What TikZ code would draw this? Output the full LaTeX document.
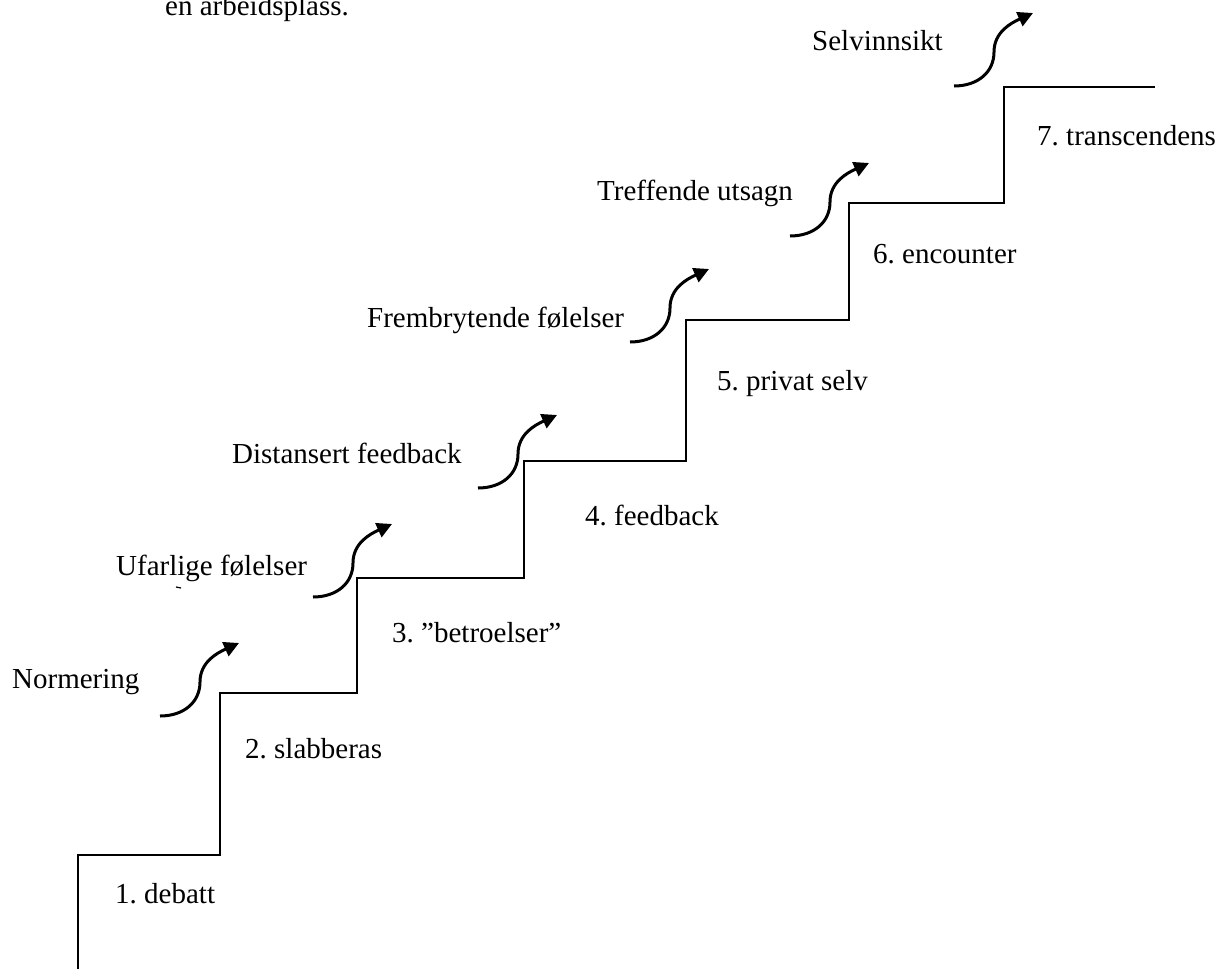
\documentclass[tikz,border=0pt]{standalone}
\usepackage{fontspec}
\setmainfont{Liberation Serif}
\usetikzlibrary{arrows.meta,calc}
\frenchspacing
\begin{document}
\begin{tikzpicture}[x=1pt,y=-1pt,
  stair/.style={line width=2pt,line join=miter},
  sarrow/.style={line width=3pt,-{Triangle[length=15pt,width=15pt]}},
  lbl/.style={anchor=base west,inner sep=0pt,font=\fontsize{29}{34}\selectfont}]
\useasboundingbox[fill=white] (0,0) rectangle (1230,969);
% staircase
\draw[stair] (78,969) -- (78,855) -- (220,855) -- (220,693) -- (357,693) -- (357,578)
  -- (524,578) -- (524,461) -- (686,461) -- (686,320) -- (849,320) -- (849,203)
  -- (1004,203) -- (1004,87) -- (1155,87);
% step labels
\node[lbl] (s1) at (115,903) {1. debatt};
\node[lbl] (s2) at (245,758) {2. slabberas};
\node[lbl] (s3) at (392,642) {3. ”betroelser”};
\node[lbl] (s4) at (585,525) {4. feedback};
\node[lbl] (s5) at (717,390) {5. privat selv};
\node[lbl] (s6) at (873,263) {6. encounter};
\node[lbl] (s7) at (1037,145) {7. transcendens};
% phase labels
\node[lbl] (top) at (165,16) {en arbeidsplass.};
\node[lbl] (p1) at (12,688) {Normering};
\node[lbl] (p2) at (116,575) {Ufarlige følelser};
\node[lbl] (p3) at (232,463) {Distansert feedback};
\node[lbl] (p4) at (367,327) {Frembrytende følelser};
\node[lbl] (p5) at (597,200) {Treffende utsagn};
\node[lbl] (p6) at (812,50) {Selvinnsikt};
\draw[line width=1.2pt] (176,587) -- (181,588);
% S-shaped arrows
\foreach \n/\x/\y in {1/160/716, 2/313/597, 3/478/488, 4/630/342, 5/790/236, 6/954/86} {
  \coordinate (a\n s) at (\x,\y);
  \coordinate (a\n m) at ($(\x,\y)+(40,-34)$);
  \coordinate (a\n e) at ($(\x,\y)+(79,-73)$);
  \draw[sarrow] (a\n s) .. controls +(24,0) and +(0,20) .. (a\n m)
     .. controls +(0,-20) and +(-22,10) .. (a\n e);
}
\end{tikzpicture}
\end{document}
